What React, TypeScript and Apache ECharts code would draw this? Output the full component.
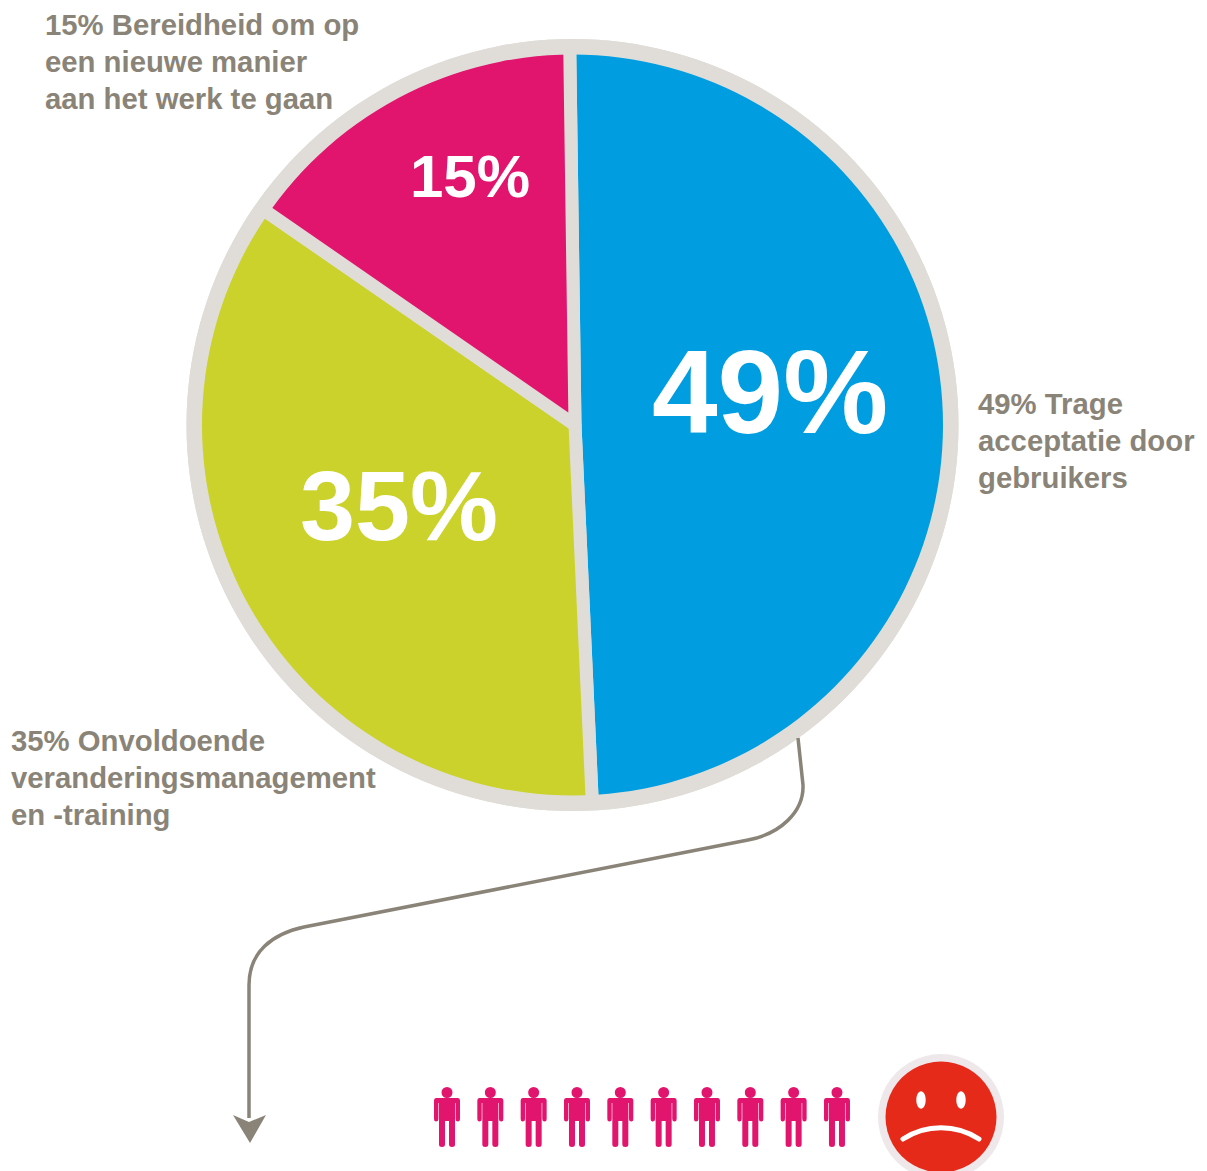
import React, { useEffect, useRef } from "react";
import * as echarts from "echarts";

// Slices, clockwise from the top
const sliceNames = ["Trage acceptatie door gebruikers", "Onvoldoende veranderingsmanagement en -training", "Bereidheid om op een nieuwe manier aan het werk te gaan"];
const sliceValues = [49, 35, 15];
const sliceColors = ["#009EE0", "#CAD22B", "#E1146E"];
const sliceLabelSizes = [118, 99, 60];
const sliceLabelCenters = [[770, 392], [399, 505], [470, 176]];

const sideLabels = [
  "49% Trage\nacceptatie door\ngebruikers",
  "35% Onvoldoende\nveranderingsmanagement\nen -training",
  "15% Bereidheid om op\neen nieuwe manier\naan het werk te gaan",
];
const sideLabelOrigins = [[978, 385], [11, 722], [45, 6]];

const peopleCount = 10;

const RIM = "#E0DDD8";
const TEXT = "#8A8478";
const FONT = '"Liberation Sans", Arial, sans-serif';

echarts.graphic.registerShape(
  "person",
  echarts.graphic.extendPath(
    "M-5.5,5.5 A5.5,5.5 0 1 1 5.5,5.5 A5.5,5.5 0 1 1 -5.5,5.5 Z " +
      "M-11,11 H11 Q13,11 13,13.5 V32 Q13,34.5 11,34.5 Q8.6,34.5 8.6,32 V16 H8 V57.5 Q8,60 5,60 Q2.2,60 2,57.5 V34 H-2 V57.5 Q-2.2,60 -5,60 Q-8,60 -8,57.5 V16 H-8.6 V32 Q-8.6,34.5 -11,34.5 Q-13,34.5 -13,32 V13.5 Q-13,11 -11,11 Z",
    {}
  )
);
echarts.graphic.registerShape(
  "leader",
  echarts.graphic.extendPath(
    "M798,738 L803,785 C804,812 780,834 748,840 L304,927 C272,934 249,952 249,985 L249,1118",
    {}
  )
);
echarts.graphic.registerShape(
  "arrowHead",
  echarts.graphic.extendPath("M233,1115 L249,1122 L266,1115 L250,1143 Z", {})
);

export default function App() {
  const ref = useRef<HTMLDivElement>(null);

  useEffect(() => {
    document.body.style.margin = "0";
    document.body.style.background = "#fff";
    const chart = echarts.init(ref.current!, undefined, { renderer: "svg" });

    const elements: any[] = [
      // Outer rim, trimmed to the white page beyond it
      { type: "ring", silent: true, shape: { cx: 572.5, cy: 425, r: 398, r0: 386 }, style: { fill: "#fff" } },
      { type: "ring", silent: true, shape: { cx: 572.5, cy: 425, r: 386, r0: 370.5 }, style: { fill: RIM } },
      ...sliceValues.map((v, i) => ({
        type: "text",
        silent: true,
        x: sliceLabelCenters[i][0],
        y: sliceLabelCenters[i][1],
        style: {
          text: `${v}%`,
          fill: "#fff",
          font: `bold ${sliceLabelSizes[i]}px ${FONT}`,
          textAlign: "center",
          textVerticalAlign: "middle",
        },
      })),
      ...sideLabels.map((t, i) => ({
        type: "text",
        silent: true,
        x: sideLabelOrigins[i][0],
        y: sideLabelOrigins[i][1],
        style: { text: t, fill: TEXT, font: `bold 29.3px ${FONT}`, lineHeight: 37 },
      })),
      { type: "leader", silent: true, style: { fill: "none", stroke: TEXT, lineWidth: 3.5 } },
      { type: "arrowHead", silent: true, style: { fill: TEXT } },
      ...Array.from({ length: peopleCount }, (_, i) => ({
        type: "person",
        silent: true,
        x: 447 + i * 43.33,
        y: 1087,
        style: { fill: "#E1146E" },
      })),
      // Sad face
      { type: "circle", silent: true, shape: { cx: 941, cy: 1117, r: 63 }, style: { fill: "#EFE8EA" } },
      { type: "circle", silent: true, shape: { cx: 941, cy: 1117, r: 55.5 }, style: { fill: "#E52A1A" } },
      { type: "ellipse", silent: true, shape: { cx: 921, cy: 1100, rx: 4.7, ry: 8.7 }, style: { fill: "#fff" } },
      { type: "ellipse", silent: true, shape: { cx: 961, cy: 1100, rx: 4.7, ry: 8.7 }, style: { fill: "#fff" } },
      {
        type: "bezierCurve",
        silent: true,
        shape: { x1: 903, y1: 1139, cpx1: 926, cpy1: 1124, cpx2: 956, cpy2: 1124, x2: 979, y2: 1139 },
        style: { fill: "none", stroke: "#fff", lineWidth: 5, lineCap: "round" },
      },
    ].map((el) => ({ ...el, z: 10 }));

    chart.setOption({
      animation: false,
      backgroundColor: "#fff",
      graphic: { elements },
      series: [
        {
          type: "pie",
          z: 1,
          silent: true,
          center: [575, 425],
          radius: [0, 385],
          startAngle: 90.8,
          clockwise: true,
          label: { show: false },
          labelLine: { show: false },
          itemStyle: { borderColor: RIM, borderWidth: 13 },
          data: sliceValues.map((value, i) => ({
            name: sliceNames[i],
            value,
            itemStyle: { color: sliceColors[i] },
          })),
        },
      ],
    });
    return () => chart.dispose();
  }, []);

  return <div ref={ref} style={{ width: 1207, height: 1171 }} />;
}
